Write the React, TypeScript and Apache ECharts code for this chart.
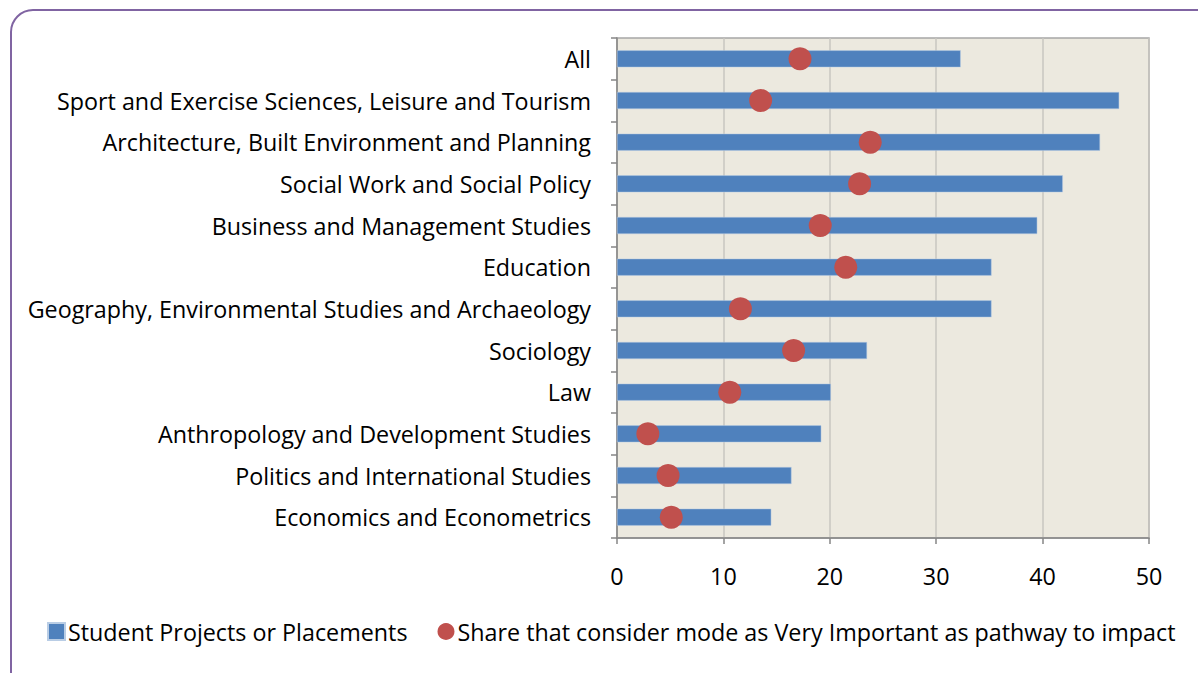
import React, { useEffect, useRef } from "react";
import * as echarts from "echarts";

const categories = [
  "All",
  "Sport and Exercise Sciences, Leisure and Tourism",
  "Architecture, Built Environment and Planning",
  "Social Work and Social Policy",
  "Business and Management Studies",
  "Education",
  "Geography, Environmental Studies and Archaeology",
  "Sociology",
  "Law",
  "Anthropology and Development Studies",
  "Politics and International Studies",
  "Economics and Econometrics",
];
const studentProjects = [32.3, 47.2, 45.4, 41.9, 39.5, 35.2, 35.2, 23.5, 20.1, 19.2, 16.4, 14.5];
const veryImportant = [17.2, 13.5, 23.8, 22.8, 19.1, 21.5, 11.6, 16.6, 10.6, 2.9, 4.8, 5.1];
const seriesNames = [
  "Student Projects or Placements",
  "Share that consider mode as Very Important as pathway to impact",
];

const FONT = "'Open Sans', 'Noto Sans', sans-serif";

export default function App() {
  const ref = useRef<HTMLDivElement>(null);
  useEffect(() => {
    if (!ref.current) return;
    const chart = echarts.init(ref.current, undefined, { renderer: "svg" });
    chart.setOption({
      animation: false,
      backgroundColor: "#ffffff",
      textStyle: { fontFamily: FONT },
      graphic: [
        {
          type: "rect",
          shape: { x: 11, y: 10, width: 1220, height: 720, r: 22 },
          style: { fill: "none", stroke: "#8064a2", lineWidth: 2 },
          silent: true,
        },
      ],
      grid: {
        left: 617,
        right: 49,
        top: 38,
        bottom: 135,
        show: true,
        backgroundColor: "#ece9df",
        borderColor: "#a6a6a6",
        borderWidth: 1.5,
      },
      legend: {
        left: 42,
        top: 615,
        itemWidth: 17,
        itemHeight: 17,
        itemGap: 30,
        textStyle: { fontSize: 23.3, color: "#000", fontFamily: FONT, padding: [0, 0, 0, -2] },
        data: [
          { name: seriesNames[0], icon: "rect" },
          { name: seriesNames[1], icon: "circle" },
        ],
      },
      xAxis: {
        type: "value",
        min: 0,
        max: 50,
        interval: 10,
        axisLine: { show: true, lineStyle: { color: "#868686", width: 1.5 } },
        axisTick: { show: true, length: 6, lineStyle: { color: "#868686", width: 1.5 } },
        axisLabel: { fontSize: 23.3, color: "#000", margin: 26, fontFamily: FONT },
        splitLine: { show: true, lineStyle: { color: "#c8c6c0", width: 1.5 } },
      },
      yAxis: {
        type: "category",
        data: categories,
        inverse: true,
        axisLine: { show: true, lineStyle: { color: "#868686", width: 1.5 } },
        axisTick: { show: true, length: 6, lineStyle: { color: "#868686", width: 1.5 } },
        axisLabel: { fontSize: 23.3, color: "#000", margin: 26, fontFamily: FONT },
        splitLine: { show: false },
      },
      series: [
        {
          name: seriesNames[0],
          type: "bar",
          data: studentProjects,
          barWidth: 17,
          itemStyle: { color: "#4f81bd", borderColor: "#b9cde5", borderWidth: 0.5 },
        },
        {
          name: seriesNames[1],
          type: "scatter",
          data: veryImportant,
          symbol: "circle",
          symbolSize: 23,
          itemStyle: { color: "#c0504d", opacity: 1 },
          z: 3,
        },
      ],
    });
    return () => chart.dispose();
  }, []);
  return (
    <div
      ref={ref}
      style={{ position: "fixed", left: 0, top: 0, width: 1198, height: 673 }}
    />
  );
}
